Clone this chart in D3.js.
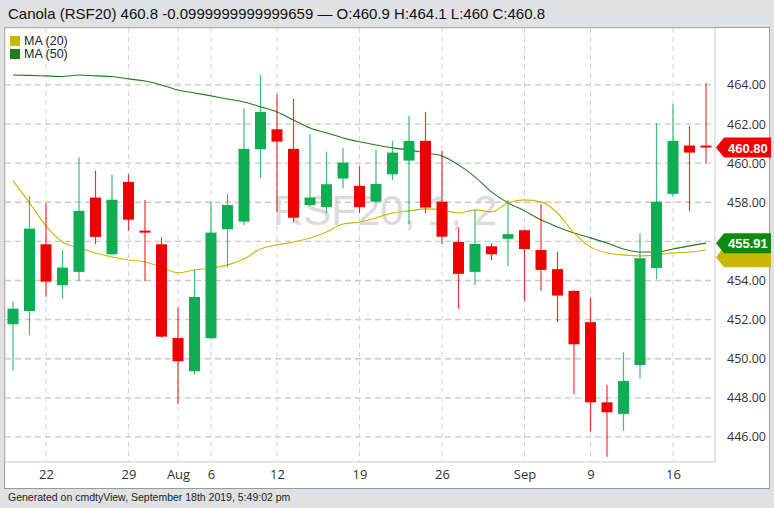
<!DOCTYPE html>
<html><head><meta charset="utf-8">
<script src="https://cdn.jsdelivr.net/npm/d3@7"></script>
<style>body{margin:0;background:#dfe1e3;}svg{display:block;font-family:"Liberation Sans",Arial,sans-serif;}</style>
</head><body><svg id="c" width="774" height="508"></svg>
<script>
const opens  = [451.76,452.44,455.85,453.76,454.44,458.24,455.34,459.04,456.55,455.85,451.06,449.36,451.05,456.62,457.01,460.71,461.73,460.73,457.86,457.75,459.21,458.84,458.03,459.43,460.13,461.14,458.03,455.97,454.44,455.75,456.13,456.57,455.56,454.58,453.47,451.87,447.77,447.18,449.67,454.64,458.43,460.9,460.9];
const closes = [452.56,456.65,453.94,454.66,457.56,456.23,458.13,457.11,456.45,451.13,449.87,453.16,456.45,457.86,460.73,462.62,461.10,457.21,458.24,458.92,460.03,457.75,458.94,460.54,461.14,457.73,456.24,454.34,455.87,455.34,456.37,455.61,454.54,453.23,450.74,447.77,447.26,448.86,455.14,458.03,461.14,460.54,460.8];
const highs  = [452.92,458.31,457.95,455.56,460.30,459.62,459.41,459.43,458.12,456.21,452.63,454.54,458.03,458.43,462.81,464.5,463.52,463.28,461.48,460.59,460.79,459.82,460.71,461.14,462.41,462.62,460.64,456.72,457.61,455.9,458.12,456.6,457.91,455.45,453.5,453.14,448.67,450.33,456.42,462.04,463.03,461.9,464.1];
const lows   = [449.4,451.19,453.17,453.06,453.99,455.85,455.3,456.55,453.98,451.08,447.69,449.19,451.0,454.68,456.84,459.23,457.52,456.96,457.8,457.44,458.72,457.44,457.98,459.14,456.88,457.44,455.87,452.56,453.77,455.05,454.74,452.97,453.48,451.87,448.18,446.27,444.99,446.31,448.98,454.06,458.26,457.54,460];
const ma20 = [459.09,457.97,456.79,455.97,455.67,455.41,455.20,455.05,454.95,454.69,454.39,454.54,454.64,454.80,455.10,455.61,455.82,455.97,456.17,456.48,456.89,456.99,457.20,457.45,457.56,457.66,457.61,457.45,457.61,457.51,457.97,458.12,458.02,457.45,456.43,455.72,455.41,455.31,455.26,455.31,455.41,455.46,455.56];
const ma50 = [464.51,464.49,464.46,464.43,464.51,464.46,464.43,464.31,464.20,464.00,463.74,463.59,463.44,463.28,463.13,462.88,462.62,462.21,461.80,461.55,461.29,461.09,460.93,460.78,460.68,460.52,460.37,459.91,459.30,458.53,457.97,457.56,457.10,456.74,456.43,456.18,455.92,455.61,455.46,455.46,455.61,455.77,455.91];
const tickIdx = [2,7,10,12,16,21,26,31,35,40];
const tickLabels = ["22","29","Aug","6","12","19","26","Sep","9","16"];
const yTicks = [446,448,450,452,454,456,458,460,462,464];
const yLabelTicks = [446,448,450,452,454,458,460,462,464];

const svg = d3.select("#c");
const L=5,R=715,T=28,B=462;
const x = d3.scaleLinear().domain([0,42]).range([13,706]);
const y = d3.scaleLinear().domain([444.72,466.91]).range([B,T]);
const GREEN="#0fae55", RED="#f00000";

svg.append("rect").attr("x",0).attr("y",0).attr("width",774).attr("height",508).attr("fill","#dfe1e3");
svg.append("text").attr("x",8).attr("y",19).attr("font-size",15).attr("fill","#111")
  .text("Canola (RSF20) 460.8 -0.0999999999999659 \u2014 O:460.9 H:464.1 L:460 C:460.8");
svg.append("rect").attr("x",4.5).attr("y",27.5).attr("width",765).attr("height",461).attr("fill","#fff").attr("stroke","#999");
svg.append("rect").attr("x",L).attr("y",T).attr("width",R-L).attr("height",B-T).attr("fill","none").attr("stroke","#ccc");

svg.append("g").selectAll("line").data(yTicks).join("line")
  .attr("x1",L).attr("x2",R).attr("y1",d=>y(d)).attr("y2",d=>y(d))
  .attr("stroke","#c8c8c8").attr("stroke-dasharray","6,4").attr("stroke-width",1.3);
svg.append("g").selectAll("line").data(tickIdx).join("line")
  .attr("x1",d=>x(d)).attr("x2",d=>x(d)).attr("y1",T).attr("y2",B)
  .attr("stroke","#d4d4d4").attr("stroke-dasharray","5,4");

const yAxis = d3.axisRight(y).tickValues(yLabelTicks).tickFormat(d3.format(".2f")).tickSize(0).tickPadding(12);
const ga = svg.append("g").attr("transform",`translate(${R},0)`).call(yAxis);
ga.select(".domain").remove();
ga.selectAll("text").attr("font-size",12.5).attr("fill","#333").attr("font-family","Open Sans, sans-serif");
const xAxis = d3.axisBottom(x).tickValues(tickIdx).tickFormat((d,i)=>tickLabels[i]).tickSize(0).tickPadding(8);
const gx = svg.append("g").attr("transform",`translate(0,${B})`).call(xAxis);
gx.select(".domain").remove();
gx.selectAll("text").attr("font-size",13).attr("fill","#333").attr("font-family","Open Sans, sans-serif");

svg.append("text").attr("x",385).attr("y",225).attr("text-anchor","middle").attr("font-size",42)
  .attr("fill","#d3d3d3").attr("opacity",0.8).text("RSF20, 1, 2");

const ln = arr => d3.line().x((d,i)=>x(i)).y(d=>y(d)).curve(d3.curveMonotoneX)(arr);
svg.append("path").attr("d",ln(ma50)).attr("fill","none").attr("stroke","#1e7d1e").attr("stroke-width",1.1);
svg.append("path").attr("d",ln(ma20)).attr("fill","none").attr("stroke","#c9b800").attr("stroke-width",1.1);

const idx = d3.range(opens.length);
const col = i => closes[i]>=opens[i]?GREEN:RED;
svg.append("g").selectAll("line").data(idx).join("line")
  .attr("x1",i=>x(i)).attr("x2",i=>x(i)).attr("y1",i=>y(highs[i])).attr("y2",i=>y(lows[i]))
  .attr("stroke",col).attr("stroke-width",1.2).attr("opacity",0.8);
svg.append("g").selectAll("rect").data(idx).join("rect")
  .attr("x",i=>x(i)-5.5).attr("width",11)
  .attr("y",i=>y(Math.max(opens[i],closes[i])))
  .attr("height",i=>Math.max(2,Math.abs(y(opens[i])-y(closes[i]))))
  .attr("fill",col);

const leg=[["MA (20)","#c9b800"],["MA (50)","#1e7d1e"]];
leg.forEach((d,i)=>{
  svg.append("rect").attr("x",10).attr("y",36+i*13).attr("width",10).attr("height",10).attr("fill",d[1]);
  svg.append("text").attr("x",24).attr("y",45+i*13).attr("font-size",12.5).attr("fill","#222").text(d[0]);
});

function badge(v,fill,dy){
  const yy=y(v)+dy;
  svg.append("path").attr("d",`M${R+1},${yy} L${R+9},${yy-10} L${R+56},${yy-10} L${R+56},${yy+10} L${R+9},${yy+10} Z`).attr("fill",fill);
  return yy;
}
badge(455.5,"#c9b800",6);
let gy=badge(ma50[42],"#0f8a0f",0);
svg.append("text").attr("x",R+13).attr("y",gy+5).attr("font-size",13).attr("font-weight","bold").attr("fill","#fff").text("455.91");
let ry=badge(460.8,"#f00000",0);
svg.append("text").attr("x",R+13).attr("y",ry+5).attr("font-size",13).attr("font-weight","bold").attr("fill","#fff").text("460.80");

svg.append("text").attr("x",8).attr("y",501).attr("font-size",10.5).attr("fill","#222")
  .text("Generated on cmdtyView, September 18th 2019, 5:49:02 pm");
</script></body></html>
